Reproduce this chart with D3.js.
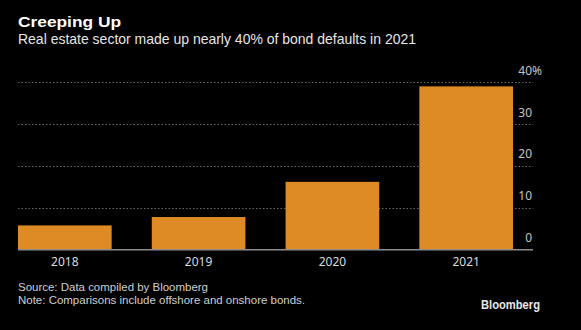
<!DOCTYPE html>
<html>
<head>
<meta charset="utf-8">
<script src="https://cdn.jsdelivr.net/npm/d3@7"></script>
<style>
  html, body { margin: 0; padding: 0; background: #000; }
  svg { display: block; }
  text { font-family: "Noto Sans", "DejaVu Sans", sans-serif; }
  text.tight { font-family: "Liberation Sans", Arial, sans-serif; }
</style>
</head>
<body>
<svg id="chart" width="581" height="330"></svg>
<script>
const categories = ["2018", "2019", "2020", "2021"];
const values = [5.8, 7.8, 16.2, 39.0];
const yTicks = [0, 10, 20, 30, 40];
const title = "Creeping Up";
const subtitle = "Real estate sector made up nearly 40% of bond defaults in 2021";
const source = "Source: Data compiled by Bloomberg";
const note = "Note: Comparisons include offshore and onshore bonds.";

const svg = d3.select("#chart");
svg.append("rect").attr("width", 581).attr("height", 330).attr("fill", "#000");

const left = 18, right = 533, barRight = 513;
const x = d3.scaleBand().domain(categories).range([left, barRight]).paddingInner(0.3).paddingOuter(0);
const y = d3.scaleLinear().domain([0, 40]).range([249.7, 82.2]);

function fit(sel, w) {
  sel.attr("textLength", w).attr("lengthAdjust", "spacingAndGlyphs");
}

// Title & subtitle
svg.append("text").attr("class", "tight").attr("x", 18).attr("y", 26.7).attr("fill", "#fff")
  .attr("font-size", 15).attr("font-weight", "bold").text(title).call(fit, 103);
svg.append("text").attr("class", "tight").attr("x", 18).attr("y", 44.3).attr("fill", "#e6e6e6")
  .attr("font-size", 15).text(subtitle).call(fit, 398);

// Gridlines
const g = svg.append("g");
g.selectAll("line.grid").data(yTicks.filter(d => d > 0)).join("line")
  .attr("class", "grid")
  .attr("x1", left).attr("x2", right)
  .attr("y1", d => Math.round(y(d)) + 0.5).attr("y2", d => Math.round(y(d)) + 0.5)
  .attr("stroke", "#6a6a6a").attr("stroke-width", 1).attr("stroke-dasharray", "1.5,2");

// Bars
svg.append("g").selectAll("rect").data(values).join("rect")
  .attr("x", (d, i) => x(categories[i]))
  .attr("width", x.bandwidth())
  .attr("y", d => y(d))
  .attr("height", d => y(0) - y(d))
  .attr("fill", "#de8b25");

// Baseline
svg.append("line").attr("x1", left).attr("x2", right)
  .attr("y1", y(0)).attr("y2", y(0))
  .attr("stroke", "#8c8c8c").attr("stroke-width", 1.5);

// Y tick labels
const yl = svg.append("g");
yl.selectAll("text").data(yTicks).join("text")
  .attr("x", 532).attr("y", d => y(d) - 7.5)
  .attr("text-anchor", "end")
  .attr("font-size", 12).attr("fill", "#c4c4c4")
  .text(d => d);
yl.append("text").attr("x", 532).attr("y", y(40) - 7.5)
  .attr("font-size", 12).attr("fill", "#c4c4c4").text("%");

// X labels
svg.append("g").selectAll("text").data(categories).join("text")
  .attr("x", d => x(d) + x.bandwidth() / 2).attr("y", 266)
  .attr("text-anchor", "middle")
  .attr("font-size", 12).attr("fill", "#dcdcdc")
  .text(d => d);

// Footer
svg.append("text").attr("class", "tight").attr("x", 18).attr("y", 291).attr("font-size", 11).attr("fill", "#cfcfcf")
  .text(source).call(fit, 190);
svg.append("text").attr("class", "tight").attr("x", 18).attr("y", 304).attr("font-size", 11).attr("fill", "#cfcfcf")
  .text(note).call(fit, 287);
svg.append("text").attr("class", "tight").attr("x", 481).attr("y", 309).attr("font-size", 12.5).attr("font-weight", "bold")
  .attr("fill", "#e8e8e8")
  .text("Bloomberg").call(fit, 59);
</script>
</body>
</html>
